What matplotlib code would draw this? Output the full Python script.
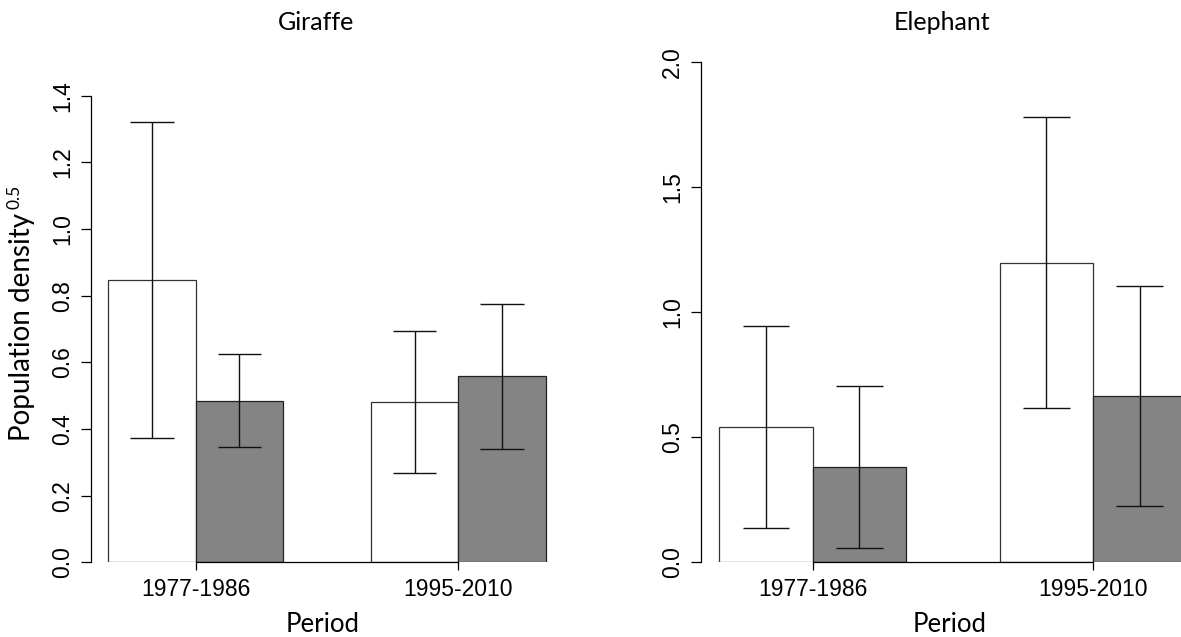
import matplotlib.pyplot as plt

periods = ['1977-1986', '1995-2010']

# giraffe: white bar / grey bar per period
giraffe_white = [0.847, 0.480]
giraffe_white_lo = [0.374, 0.267]
giraffe_white_hi = [1.320, 0.693]
giraffe_grey = [0.485, 0.558]
giraffe_grey_lo = [0.345, 0.339]
giraffe_grey_hi = [0.625, 0.776]

# elephant
elephant_white = [0.541, 1.198]
elephant_white_lo = [0.137, 0.617]
elephant_white_hi = [0.943, 1.779]
elephant_grey = [0.382, 0.665]
elephant_grey_lo = [0.058, 0.226]
elephant_grey_hi = [0.705, 1.105]

W, H = 1181, 637
fig = plt.figure(figsize=(W / 100, H / 100), dpi=100)

tick_font = 'Liberation Sans'
lab_font = 'Lato'
grey = '#848484'


def px_axes(left, right, bottom, top):
    return fig.add_axes([left / W, 1 - bottom / H, (right - left) / W, (bottom - top) / H])


def panel(ax, white, wlo, whi, grey_v, glo, ghi, ymax, yticks):
    xw = [1.5, 4.5]
    xg = [2.5, 5.5]
    ax.bar(xw, white, width=1.0, color='white', edgecolor='#333333', linewidth=0.9, zorder=2)
    ax.bar(xg, grey_v, width=1.0, color=grey, edgecolor='#222222', linewidth=0.9, zorder=2)
    for xs, lo, hi in [(xw, wlo, whi), (xg, glo, ghi)]:
        ax.vlines(xs, lo, hi, color='#111111', linewidth=1.0, zorder=3)
        for x, l, h in zip(xs, lo, hi):
            ax.hlines([l, h], x - 0.25, x + 0.25, color='#111111', linewidth=1.0, zorder=3)
    ax.set_xlim(0.8, 6.2)
    ax.set_ylim(0, ymax)
    for s in ['top', 'right']:
        ax.spines[s].set_visible(False)
    ax.spines['left'].set_bounds(yticks[0], yticks[-1])
    ax.spines['bottom'].set_bounds(2, 5)
    ax.spines['left'].set_linewidth(0.9)
    ax.spines['bottom'].set_linewidth(0.9)
    ax.set_xticks([2, 5])
    ax.set_xticklabels(periods, fontsize=16.5, family=tick_font)
    ax.set_yticks(yticks)
    ax.set_yticklabels(['%.1f' % v for v in yticks], fontsize=16.5, family=tick_font,
                       rotation=90, va='center')
    ax.tick_params(axis='y', length=7, width=0.9, pad=5)
    ax.tick_params(axis='x', length=6, width=0.9, pad=5)


ax1 = px_axes(90.5, 563.5, 562.3, 79)
panel(ax1, giraffe_white, giraffe_white_lo, giraffe_white_hi,
      giraffe_grey, giraffe_grey_lo, giraffe_grey_hi,
      1.45, [0.0, 0.2, 0.4, 0.6, 0.8, 1.0, 1.2, 1.4])

ax2 = px_axes(700.6, 1205, 562.3, 57)
panel(ax2, elephant_white, elephant_white_lo, elephant_white_hi,
      elephant_grey, elephant_grey_lo, elephant_grey_hi,
      2.02, [0.0, 0.5, 1.0, 1.5, 2.0])

# titles and axis labels placed in figure pixels
fig.text(316 / W, 1 - 23 / H, 'Giraffe', fontsize=18, family=lab_font, ha='center', va='center')
fig.text(942 / W, 1 - 23 / H, 'Elephant', fontsize=18, family=lab_font, ha='center', va='center')
fig.text(323 / W, 1 - 632 / H, 'Period', fontsize=18.5, family=lab_font, ha='center', va='baseline')
fig.text(950 / W, 1 - 632 / H, 'Period', fontsize=18.5, family=lab_font, ha='center', va='baseline')

fig.text(22 / W, 1 - 327 / H, 'Population density', rotation=90, fontsize=20,
         family=lab_font, ha='center', va='center')
fig.text(14 / W, 1 - 197 / H, '0.5', rotation=90, fontsize=12.5,
         family=lab_font, ha='center', va='center')

fig.savefig('out.png', dpi=100)
